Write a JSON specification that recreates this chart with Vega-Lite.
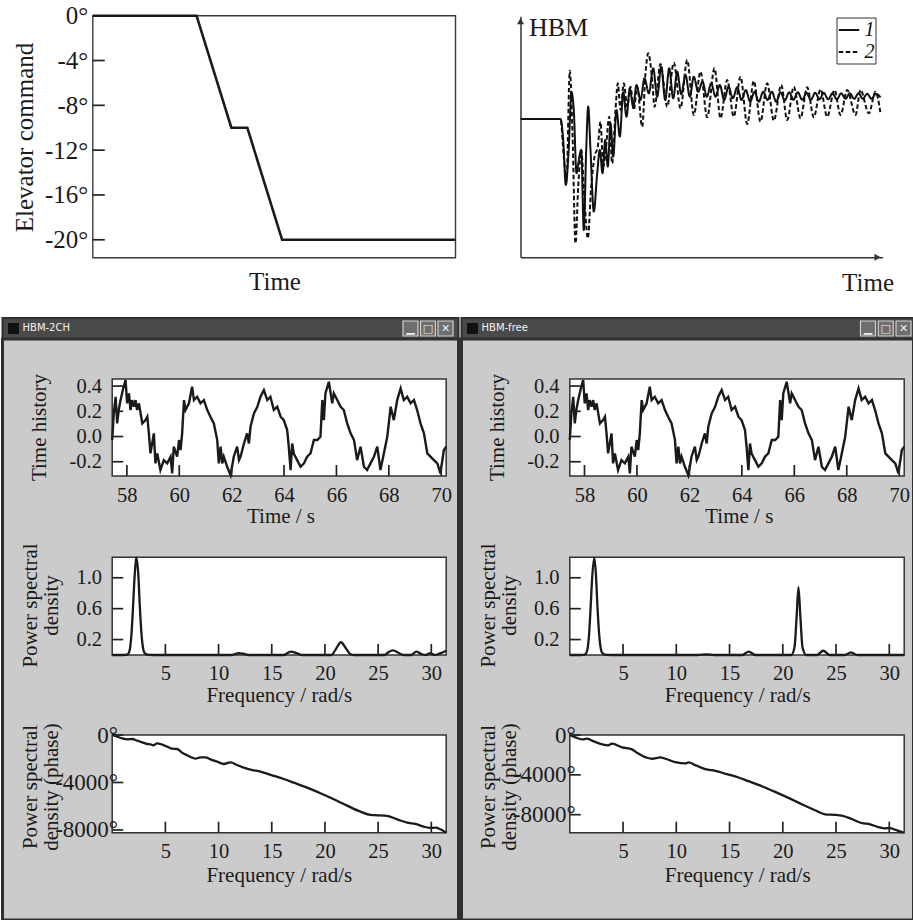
{
"$schema": "https://vega.github.io/schema/vega-lite/v6.json",
"padding": {"left": 0.5, "top": 0, "right": 0, "bottom": 0},
"background": "white",
"spacing": 0,
"bounds": "flush",
"config": {
 "view": {"stroke": null},
 "axis": {"grid": false, "domain": false, "ticks": false, "tickSize": 0, "labelFont": "Liberation Serif", "titleFont": "Liberation Serif", "labelFontSize": 20.5, "titleFontSize": 21, "titleFontWeight": "normal", "labelColor": "#1a1a1a", "titleColor": "#1a1a1a", "labelFlush": false, "labelOverlap": false},
 "tick": {"color": "#222222", "opacity": 1, "thickness": 1.7}
},
"datasets": {
 "buttons": [{"b":"min","g":"▁"},{"b":"max","g":"□"},{"b":"close","g":"✕"}],
 "elevTk": [{"e":-4},{"e":-8},{"e":-12},{"e":-16},{"e":-20}],
 "thXt": [{"t":58},{"t":60},{"t":62},{"t":64},{"t":66},{"t":68},{"t":70}],
 "thYt": [{"v":-0.2},{"v":0},{"v":0.2},{"v":0.4}],
 "fXt": [{"f":5},{"f":10},{"f":15},{"f":20},{"f":25},{"f":30}],
 "pYt": [{"p":0.2},{"p":0.6},{"p":1.0}],
 "phYt": [{"d":0},{"d":-4000},{"d":-8000}],
 "elev": [{"x":0,"e":0},{"x":28.6,"e":0},{"x":38.2,"e":-10},{"x":42.6,"e":-10},{"x":52.2,"e":-20},{"x":100,"e":-20}],
 "hbm": [
  {"t":0,"h":138.3,"s":"1"},{"t":40,"h":138.3,"s":"1"},{"t":42.7,"h":117.3,"s":"1"},{"t":45.3,"h":72.3,"s":"1"},{"t":48,"h":104,"s":"1"},{"t":51,"h":165,"s":"1"},{"t":53.3,"h":147,"s":"1"},{"t":56,"h":84,"s":"1"},{"t":58.3,"h":97.3,"s":"1"},{"t":60.7,"h":107.3,"s":"1"},{"t":63.3,"h":27.3,"s":"1"},{"t":65.7,"h":107.3,"s":"1"},{"t":67.7,"h":150.7,"s":"1"},{"t":70,"h":107.3,"s":"1"},{"t":73.3,"h":45.7,"s":"1"},{"t":76.7,"h":84,"s":"1"},{"t":79.3,"h":107.3,"s":"1"},{"t":82,"h":84,"s":"1"},{"t":84.7,"h":117.3,"s":"1"},{"t":87.3,"h":90.7,"s":"1"},{"t":90,"h":134,"s":"1"},{"t":92.7,"h":100.6,"s":"1"},{"t":96,"h":147.3,"s":"1"},{"t":99.3,"h":120.7,"s":"1"},{"t":102.7,"h":165,"s":"1"},{"t":106,"h":140.6,"s":"1"},{"t":109.3,"h":169,"s":"1"},{"t":112.7,"h":150.6,"s":"1"},{"t":116,"h":172.3,"s":"1"},{"t":120,"h":157.3,"s":"1"},{"t":124,"h":179,"s":"1"},{"t":128.3,"h":164,"s":"1"},{"t":132.7,"h":189,"s":"1"},{"t":136.7,"h":160.6,"s":"1"},{"t":140.7,"h":190.6,"s":"1"},{"t":144.7,"h":157.3,"s":"1"},{"t":148.7,"h":189,"s":"1"},{"t":152.7,"h":159,"s":"1"},{"t":156.7,"h":185.6,"s":"1"},{"t":160.7,"h":163,"s":"1"},{"t":165,"h":182.3,"s":"1"},{"t":169.3,"h":160.6,"s":"1"},{"t":173.3,"h":180.6,"s":"1"},{"t":177.7,"h":165.6,"s":"1"},{"t":182,"h":175.6,"s":"1"},{"t":186.3,"h":160.6,"s":"1"},{"t":190.7,"h":174,"s":"1"},{"t":195,"h":160.6,"s":"1"},{"t":199.3,"h":172.3,"s":"1"},{"t":203.7,"h":157.3,"s":"1"},{"t":208,"h":170.6,"s":"1"},{"t":212.3,"h":159,"s":"1"},{"t":216.7,"h":170,"s":"1"},{"t":221,"h":157.3,"s":"1"},{"t":225.3,"h":167.3,"s":"1"},{"t":229.7,"h":155.6,"s":"1"},{"t":234,"h":165.6,"s":"1"},{"t":238.3,"h":155.6,"s":"1"},{"t":242.7,"h":165.6,"s":"1"},{"t":247,"h":157.3,"s":"1"},{"t":251.3,"h":165.6,"s":"1"},{"t":255.7,"h":155.6,"s":"1"},{"t":260,"h":165,"s":"1"},{"t":264.3,"h":157,"s":"1"},{"t":268.7,"h":165,"s":"1"},{"t":273,"h":157.5,"s":"1"},{"t":277.3,"h":165,"s":"1"},{"t":281.7,"h":157.5,"s":"1"},{"t":286,"h":164.5,"s":"1"},{"t":290.3,"h":157.5,"s":"1"},{"t":294.7,"h":164.5,"s":"1"},{"t":299,"h":158,"s":"1"},{"t":303.3,"h":164.5,"s":"1"},{"t":307.7,"h":158,"s":"1"},{"t":312,"h":164,"s":"1"},{"t":316.3,"h":158,"s":"1"},{"t":320.7,"h":164,"s":"1"},{"t":325,"h":158.5,"s":"1"},{"t":329.3,"h":164,"s":"1"},{"t":333.7,"h":158.5,"s":"1"},{"t":338,"h":164,"s":"1"},{"t":342.3,"h":158.5,"s":"1"},{"t":346.7,"h":163.5,"s":"1"},{"t":351,"h":158.5,"s":"1"},{"t":355.3,"h":163.5,"s":"1"},{"t":360,"h":160,"s":"1"},
  {"t":0,"h":138.3,"s":"2"},{"t":40,"h":138.3,"s":"2"},{"t":43.3,"h":100.6,"s":"2"},{"t":46,"h":77.3,"s":"2"},{"t":49.3,"h":186.6,"s":"2"},{"t":52,"h":124,"s":"2"},{"t":55,"h":14,"s":"2"},{"t":57.7,"h":70.6,"s":"2"},{"t":60.7,"h":107.3,"s":"2"},{"t":64,"h":57.3,"s":"2"},{"t":67.3,"h":19,"s":"2"},{"t":70.7,"h":70.6,"s":"2"},{"t":74,"h":100.6,"s":"2"},{"t":77.3,"h":110.6,"s":"2"},{"t":80,"h":135.6,"s":"2"},{"t":82.7,"h":90.6,"s":"2"},{"t":85.3,"h":107.3,"s":"2"},{"t":88.7,"h":140.6,"s":"2"},{"t":91.7,"h":94,"s":"2"},{"t":95,"h":147.3,"s":"2"},{"t":97.3,"h":174,"s":"2"},{"t":100,"h":147.3,"s":"2"},{"t":103.3,"h":174,"s":"2"},{"t":106.7,"h":150.6,"s":"2"},{"t":110,"h":170.6,"s":"2"},{"t":113.3,"h":147.3,"s":"2"},{"t":116.7,"h":170.6,"s":"2"},{"t":121.7,"h":130.6,"s":"2"},{"t":125,"h":184,"s":"2"},{"t":127.7,"h":204,"s":"2"},{"t":131.7,"h":177.3,"s":"2"},{"t":134,"h":150.6,"s":"2"},{"t":140,"h":193.3,"s":"2"},{"t":146.7,"h":150.6,"s":"2"},{"t":153.3,"h":194.6,"s":"2"},{"t":160,"h":149,"s":"2"},{"t":166.7,"h":197.3,"s":"2"},{"t":173.3,"h":142.3,"s":"2"},{"t":180,"h":185.6,"s":"2"},{"t":186.7,"h":140,"s":"2"},{"t":194,"h":189,"s":"2"},{"t":200,"h":139,"s":"2"},{"t":206.7,"h":177.3,"s":"2"},{"t":213.3,"h":140.6,"s":"2"},{"t":220,"h":180.6,"s":"2"},{"t":226.7,"h":133.3,"s":"2"},{"t":233.3,"h":176.3,"s":"2"},{"t":240,"h":135.6,"s":"2"},{"t":246.7,"h":174,"s":"2"},{"t":253.3,"h":136.6,"s":"2"},{"t":260.7,"h":172.3,"s":"2"},{"t":266.7,"h":137.3,"s":"2"},{"t":273.3,"h":170.6,"s":"2"},{"t":280,"h":139,"s":"2"},{"t":286.7,"h":170,"s":"2"},{"t":293.3,"h":140,"s":"2"},{"t":300,"h":168,"s":"2"},{"t":306.7,"h":140.6,"s":"2"},{"t":314,"h":167.3,"s":"2"},{"t":320,"h":142.3,"s":"2"},{"t":326.7,"h":167.3,"s":"2"},{"t":335,"h":142.3,"s":"2"},{"t":340,"h":167.3,"s":"2"},{"t":348.3,"h":144,"s":"2"},{"t":355,"h":165.6,"s":"2"},{"t":360,"h":144,"s":"2"}
 ],
 "th": [
  {"t":57.44,"v":-0.028},{"t":57.50,"v":0.183},{"t":57.57,"v":0.315},{"t":57.63,"v":0.104},{"t":57.69,"v":0.210},{"t":57.76,"v":0.289},{"t":57.86,"v":0.381},{"t":57.95,"v":0.448},{"t":58.01,"v":0.263},{"t":58.08,"v":0.342},{"t":58.14,"v":0.210},{"t":58.20,"v":0.289},{"t":58.27,"v":0.236},{"t":58.33,"v":0.289},{"t":58.39,"v":0.210},{"t":58.46,"v":0.263},{"t":58.59,"v":0.104},{"t":58.71,"v":0.130},{"t":58.78,"v":0.157},{"t":58.84,"v":0.025},{"t":58.90,"v":-0.134},{"t":59.03,"v":0.025},{"t":59.09,"v":-0.213},{"t":59.16,"v":-0.134},{"t":59.28,"v":-0.266},{"t":59.41,"v":-0.187},{"t":59.54,"v":-0.213},{"t":59.67,"v":-0.160},{"t":59.73,"v":-0.292},{"t":59.79,"v":-0.081},{"t":59.92,"v":-0.160},{"t":59.99,"v":-0.028},{"t":60.05,"v":-0.107},{"t":60.11,"v":0.025},{"t":60.18,"v":0.289},{"t":60.24,"v":0.210},{"t":60.37,"v":0.263},{"t":60.49,"v":0.395},{"t":60.56,"v":0.289},{"t":60.68,"v":0.315},{"t":60.81,"v":0.263},{"t":60.94,"v":0.289},{"t":61.07,"v":0.210},{"t":61.19,"v":0.157},{"t":61.32,"v":0.104},{"t":61.45,"v":-0.028},{"t":61.51,"v":-0.213},{"t":61.58,"v":-0.081},{"t":61.64,"v":-0.213},{"t":61.70,"v":-0.160},{"t":61.83,"v":-0.240},{"t":61.96,"v":-0.306},{"t":62.08,"v":-0.160},{"t":62.21,"v":-0.081},{"t":62.28,"v":-0.187},{"t":62.34,"v":-0.160},{"t":62.47,"v":-0.055},{"t":62.59,"v":0.025},{"t":62.66,"v":-0.055},{"t":62.72,"v":0.078},{"t":62.85,"v":0.183},{"t":62.98,"v":0.236},{"t":63.10,"v":0.315},{"t":63.23,"v":0.368},{"t":63.36,"v":0.289},{"t":63.48,"v":0.315},{"t":63.61,"v":0.210},{"t":63.74,"v":0.236},{"t":63.87,"v":0.157},{"t":63.99,"v":0.130},{"t":64.12,"v":0.051},{"t":64.18,"v":-0.081},{"t":64.25,"v":-0.266},{"t":64.31,"v":-0.055},{"t":64.37,"v":-0.134},{"t":64.50,"v":-0.187},{"t":64.63,"v":-0.240},{"t":64.76,"v":-0.213},{"t":64.88,"v":-0.160},{"t":65.01,"v":-0.134},{"t":65.14,"v":-0.028},{"t":65.27,"v":-0.028},{"t":65.39,"v":-0.002},{"t":65.46,"v":0.289},{"t":65.52,"v":0.130},{"t":65.58,"v":0.342},{"t":65.71,"v":0.434},{"t":65.84,"v":0.263},{"t":65.90,"v":0.342},{"t":66.03,"v":0.289},{"t":66.16,"v":0.236},{"t":66.28,"v":0.210},{"t":66.41,"v":0.104},{"t":66.54,"v":0.025},{"t":66.67,"v":-0.028},{"t":66.79,"v":-0.187},{"t":66.92,"v":-0.081},{"t":67.05,"v":-0.240},{"t":67.17,"v":-0.266},{"t":67.30,"v":-0.213},{"t":67.43,"v":-0.160},{"t":67.56,"v":-0.081},{"t":67.68,"v":-0.266},{"t":67.81,"v":-0.134},{"t":67.94,"v":-0.002},{"t":68.07,"v":0.236},{"t":68.19,"v":0.130},{"t":68.32,"v":0.289},{"t":68.45,"v":0.381},{"t":68.57,"v":0.289},{"t":68.70,"v":0.315},{"t":68.83,"v":0.263},{"t":68.96,"v":0.289},{"t":69.08,"v":0.210},{"t":69.21,"v":0.104},{"t":69.34,"v":0.025},{"t":69.47,"v":-0.134},{"t":69.59,"v":-0.160},{"t":69.72,"v":-0.187},{"t":69.85,"v":-0.213},{"t":69.97,"v":-0.292},{"t":70.10,"v":-0.107},{"t":70.19,"v":-0.081}
 ],
 "psdL": [
  {"f":0,"p":0},{"f":1.0,"p":0},{"f":1.4,"p":0.005},{"f":1.6,"p":0.04},{"f":1.8,"p":0.25},{"f":1.95,"p":0.6},{"f":2.1,"p":1.0},{"f":2.28,"p":1.26},{"f":2.45,"p":1.05},{"f":2.6,"p":0.62},{"f":2.75,"p":0.28},{"f":2.9,"p":0.09},{"f":3.05,"p":0.025},{"f":3.3,"p":0.004},{"f":3.8,"p":0},{"f":11.2,"p":0},{"f":11.9,"p":0.025},{"f":12.5,"p":0.01},{"f":13.0,"p":0},{"f":16.1,"p":0},{"f":16.8,"p":0.045},{"f":17.4,"p":0.02},{"f":17.9,"p":0},{"f":20.6,"p":0},{"f":21.0,"p":0.07},{"f":21.5,"p":0.165},{"f":22.0,"p":0.08},{"f":22.4,"p":0.01},{"f":22.8,"p":0},{"f":25.6,"p":0},{"f":26.0,"p":0.04},{"f":26.4,"p":0.06},{"f":26.9,"p":0.03},{"f":27.4,"p":0},{"f":28.1,"p":0},{"f":28.6,"p":0.045},{"f":29.1,"p":0.01},{"f":29.5,"p":0},{"f":29.9,"p":0.025},{"f":30.3,"p":0},{"f":30.8,"p":0.02},{"f":31.4,"p":0.055}
 ],
 "psdR": [
  {"f":0,"p":0},{"f":1.0,"p":0},{"f":1.4,"p":0.005},{"f":1.6,"p":0.04},{"f":1.8,"p":0.25},{"f":1.95,"p":0.6},{"f":2.1,"p":1.0},{"f":2.3,"p":1.26},{"f":2.45,"p":1.05},{"f":2.6,"p":0.62},{"f":2.75,"p":0.28},{"f":2.9,"p":0.09},{"f":3.05,"p":0.025},{"f":3.3,"p":0.004},{"f":3.8,"p":0},{"f":12.0,"p":0},{"f":12.8,"p":0.008},{"f":13.6,"p":0},{"f":16.2,"p":0},{"f":16.8,"p":0.045},{"f":17.4,"p":0},{"f":20.8,"p":0},{"f":21.1,"p":0.1},{"f":21.3,"p":0.5},{"f":21.47,"p":0.88},{"f":21.65,"p":0.5},{"f":21.85,"p":0.1},{"f":22.2,"p":0},{"f":23.2,"p":0},{"f":23.8,"p":0.055},{"f":24.4,"p":0},{"f":25.8,"p":0},{"f":26.4,"p":0.035},{"f":27.0,"p":0},{"f":31.4,"p":0}
 ],
 "phL": [
  {"f":0,"d":0},{"f":0.47,"d":-140},{"f":0.94,"d":-281},{"f":1.41,"d":-365},{"f":1.88,"d":-337},{"f":2.35,"d":-477},{"f":2.82,"d":-618},{"f":3.29,"d":-758},{"f":3.6,"d":-786},{"f":3.85,"d":-870},{"f":4.23,"d":-702},{"f":4.7,"d":-814},{"f":5.17,"d":-982},{"f":5.64,"d":-1151},{"f":6.11,"d":-1179},{"f":6.58,"d":-1488},{"f":7.05,"d":-1712},{"f":7.52,"d":-1909},{"f":7.83,"d":-1993},{"f":8.3,"d":-1881},{"f":8.77,"d":-1881},{"f":9.24,"d":-2049},{"f":9.87,"d":-2246},{"f":10.5,"d":-2442},{"f":11.12,"d":-2302},{"f":11.75,"d":-2526},{"f":12.37,"d":-2751},{"f":13.0,"d":-2919},{"f":13.94,"d":-3088},{"f":15.04,"d":-3396},{"f":16.13,"d":-3705},{"f":17.07,"d":-4014},{"f":18.33,"d":-4435},{"f":19.58,"d":-4912},{"f":20.83,"d":-5418},{"f":22.09,"d":-5951},{"f":23.34,"d":-6456},{"f":24.28,"d":-6737},{"f":24.91,"d":-6765},{"f":25.85,"d":-6821},{"f":26.79,"d":-7102},{"f":27.73,"d":-7382},{"f":28.51,"d":-7495},{"f":29.29,"d":-7719},{"f":29.92,"d":-7831},{"f":30.39,"d":-7803},{"f":30.86,"d":-7944},{"f":31.39,"d":-8225}
 ],
 "phR": [
  {"f":0,"d":0},{"f":0.53,"d":-235},{"f":1.16,"d":-437},{"f":1.63,"d":-370},{"f":2.09,"d":-571},{"f":3.03,"d":-941},{"f":3.59,"d":-1042},{"f":3.97,"d":-874},{"f":4.91,"d":-1244},{"f":5.84,"d":-1445},{"f":6.31,"d":-1781},{"f":7.25,"d":-2285},{"f":7.72,"d":-2386},{"f":8.5,"d":-2251},{"f":8.97,"d":-2386},{"f":9.91,"d":-2722},{"f":10.84,"d":-2856},{"f":11.16,"d":-2755},{"f":11.78,"d":-3024},{"f":12.72,"d":-3427},{"f":13.66,"d":-3595},{"f":14.75,"d":-3931},{"f":15.84,"d":-4267},{"f":16.78,"d":-4637},{"f":18.03,"d":-5141},{"f":19.28,"d":-5712},{"f":20.53,"d":-6317},{"f":21.78,"d":-6955},{"f":23.03,"d":-7560},{"f":23.97,"d":-7963},{"f":25.06,"d":-8030},{"f":25.53,"d":-8098},{"f":26.47,"d":-8434},{"f":27.41,"d":-8837},{"f":28.19,"d":-8971},{"f":28.97,"d":-9240},{"f":29.59,"d":-9374},{"f":30.06,"d":-9341},{"f":30.53,"d":-9509},{"f":31.34,"d":-9800}
 ]
},
"vconcat": [
 {
  "width": 911, "height": 318,
  "view": {"fill": "white", "stroke": null},
  "layer": [
   {"layer": [
    {"data": {"values": [{}]}, "mark": {"type": "rect", "fill": "white", "stroke": "#3a3a3a", "strokeWidth": 1.4},
     "encoding": {
      "x": {"datum": 0, "type": "quantitative", "scale": {"domain": [0, 100], "range": [90.3, 453], "nice": false, "zero": false}},
      "x2": {"datum": 100},
      "y": {"datum": -21.6, "type": "quantitative", "scale": {"domain": [-21.6, 0], "range": [257.7, 15.7], "nice": false, "zero": false}},
      "y2": {"datum": 0}}},
    {"data": {"name": "elev"}, "mark": {"type": "line", "color": "#1a1a1a", "strokeWidth": 2.6},
     "encoding": {
      "x": {"field": "x", "type": "quantitative", "scale": {"domain": [0, 100], "range": [90.3, 453], "nice": false, "zero": false},
            "axis": {"orient": "bottom", "offset": -60.3, "zindex": 2, "labels": false, "title": "Time", "titleFontSize": 25, "titleX": 272, "titleY": 24.1, "titleAlign": "center", "titleBaseline": "middle"}},
      "y": {"field": "e", "type": "quantitative", "scale": {"domain": [-21.6, 0], "range": [257.7, 15.7], "nice": false, "zero": false},
            "axis": {"orient": "left", "offset": -90.3, "zindex": 2, "values": [0, -4, -8, -12, -16, -20], "labelExpr": "datum.value + '°'", "labelFontSize": 25, "labelPadding": 5, "title": "Elevator command", "titleFontSize": 25, "titleX": -68.8, "titleY": 137, "titleAngle": -90, "titleAlign": "center", "titleBaseline": "middle"}}}},
    {"data": {"name": "elevTk"}, "mark": {"type": "tick", "orient": "horizontal", "size": 12, "xOffset": 6},
     "encoding": {
      "x": {"datum": 0, "type": "quantitative", "scale": {"domain": [0, 100], "range": [90.3, 453], "nice": false, "zero": false}},
      "y": {"field": "e", "type": "quantitative", "scale": {"domain": [-21.6, 0], "range": [257.7, 15.7], "nice": false, "zero": false}}}}
   ]},
   {"layer": [
    {"data": {"name": "hbm"}, "mark": {"type": "line", "color": "#111111", "strokeWidth": 2, "interpolate": "monotone"},
     "encoding": {
      "x": {"field": "t", "type": "quantitative", "scale": {"domain": [0, 362], "range": [518, 880], "nice": false, "zero": false},
            "axis": {"orient": "bottom", "offset": -60.7, "zindex": 2, "domain": true, "domainColor": "#333333", "domainWidth": 1.5, "labels": false, "title": "Time", "titleFontSize": 25, "titleX": 891, "titleY": 25.2, "titleAlign": "right", "titleBaseline": "middle"}},
      "y": {"field": "h", "type": "quantitative", "scale": {"domain": [0, 241], "range": [257.3, 16.3], "nice": false, "zero": false},
            "axis": {"orient": "left", "offset": -518, "zindex": 2, "domain": true, "domainColor": "#333333", "domainWidth": 1.5, "labels": false, "title": "HBM", "titleFontSize": 26, "titleAngle": 0, "titleX": 8, "titleY": 27.2, "titleAlign": "left", "titleBaseline": "middle"}},
      "strokeDash": {"field": "s", "type": "nominal", "scale": {"domain": ["1", "2"], "range": [[1, 0], [4.5, 2.5]]},
            "legend": {"orient": "none", "legendX": 834, "legendY": 17.5, "title": null, "direction": "vertical", "strokeColor": "#333333", "fillColor": "white", "padding": 1, "symbolType": "stroke", "symbolSize": 420, "symbolStrokeWidth": 2, "symbolStrokeColor": "#111111", "labelFont": "Liberation Serif", "labelFontStyle": "italic", "labelFontSize": 20, "labelColor": "#111111", "rowPadding": -6, "labelOffset": 4}}}},
    {"data": {"values": [{}]}, "mark": {"type": "point", "shape": "triangle-up", "filled": true, "size": 50, "color": "#333333", "opacity": 1},
     "encoding": {
      "x": {"datum": 0, "type": "quantitative", "scale": {"domain": [0, 362], "range": [518, 880], "nice": false, "zero": false}},
      "y": {"datum": 236, "type": "quantitative", "scale": {"domain": [0, 241], "range": [257.3, 16.3], "nice": false, "zero": false}}}},
    {"data": {"values": [{}]}, "mark": {"type": "point", "shape": "triangle-right", "filled": true, "size": 50, "color": "#333333", "opacity": 1},
     "encoding": {
      "x": {"datum": 357, "type": "quantitative", "scale": {"domain": [0, 362], "range": [518, 880], "nice": false, "zero": false}},
      "y": {"datum": 0, "type": "quantitative", "scale": {"domain": [0, 241], "range": [257.3, 16.3], "nice": false, "zero": false}}}}
   ]}
  ],
  "resolve": {"scale": {"x": "independent", "y": "independent"}, "axis": {"x": "independent", "y": "independent"}}
 },
 {
  "columns": 2,
  "spacing": {"row": 0, "column": 3},
  "bounds": "flush",
  "concat": [
     {"width": 456, "height": 21,
      "view": {"fill": "#4a4a4a", "stroke": "#303030", "strokeWidth": 2},
      "title": {"text": "HBM-2CH", "anchor": "start", "offset": -15, "dx": 20, "color": "#f4f4f4", "font": "DejaVu Sans", "fontSize": 10, "fontWeight": "normal"},
      "layer": [
       {"data": {"values": [{}]}, "mark": {"type": "point", "shape": "square", "filled": true, "size": 121, "color": "#111111", "opacity": 1},
        "encoding": {"x": {"datum": 0, "type": "quantitative", "scale": {"domain": [0, 1], "range": [11, 12]}, "axis": null}}},
       {"data": {"name": "buttons"}, "mark": {"type": "point", "shape": "square", "filled": true, "size": 225, "fill": "#6e6e6e", "stroke": "#d2d2d2", "strokeWidth": 1.2, "opacity": 1},
        "encoding": {"x": {"field": "b", "type": "nominal", "sort": null, "scale": {"type": "point", "domain": ["min", "max", "close"], "range": [408, 443], "padding": 0}, "axis": null}}},
       {"data": {"name": "buttons"}, "mark": {"type": "text", "font": "DejaVu Sans", "fontSize": 11, "color": "#f0f0f0", "baseline": "middle", "align": "center"},
        "encoding": {"x": {"field": "b", "type": "nominal", "sort": null, "scale": {"type": "point", "domain": ["min", "max", "close"], "range": [408, 443], "padding": 0}, "axis": null}, "text": {"field": "g"}}}
      ]},
     {"width": 452, "height": 21,
      "view": {"fill": "#4a4a4a", "stroke": "#303030", "strokeWidth": 2},
      "title": {"text": "HBM-free", "anchor": "start", "offset": -15, "dx": 20, "color": "#f4f4f4", "font": "DejaVu Sans", "fontSize": 10, "fontWeight": "normal"},
      "layer": [
       {"data": {"values": [{}]}, "mark": {"type": "point", "shape": "square", "filled": true, "size": 121, "color": "#111111", "opacity": 1},
        "encoding": {"x": {"datum": 0, "type": "quantitative", "scale": {"domain": [0, 1], "range": [11, 12]}, "axis": null}}},
       {"data": {"name": "buttons"}, "mark": {"type": "point", "shape": "square", "filled": true, "size": 225, "fill": "#6e6e6e", "stroke": "#d2d2d2", "strokeWidth": 1.2, "opacity": 1},
        "encoding": {"x": {"field": "b", "type": "nominal", "sort": null, "scale": {"type": "point", "domain": ["min", "max", "close"], "range": [406.5, 442], "padding": 0}, "axis": null}}},
       {"data": {"name": "buttons"}, "mark": {"type": "text", "font": "DejaVu Sans", "fontSize": 11, "color": "#f0f0f0", "baseline": "middle", "align": "center"},
        "encoding": {"x": {"field": "b", "type": "nominal", "sort": null, "scale": {"type": "point", "domain": ["min", "max", "close"], "range": [406.5, 442], "padding": 0}, "axis": null}, "text": {"field": "g"}}}
      ]},
     {"width": 456, "height": 581,
      "view": {"fill": "#cbcbcb", "stroke": "#303030", "strokeWidth": 3},
      "layer": [
       {"layer": [
        {"data": {"values": [{}]}, "mark": {"type": "rect", "fill": "white", "stroke": "#333333", "strokeWidth": 1.5},
         "encoding": {
          "x": {"datum": 57.44, "type": "quantitative", "scale": {"domain": [57.44, 70.19], "range": [109.7, 443.7], "nice": false, "zero": false}},
          "x2": {"datum": 70.19},
          "y": {"datum": -0.313, "type": "quantitative", "scale": {"domain": [-0.313, 0.456], "range": [137, 40], "nice": false, "zero": false}},
          "y2": {"datum": 0.456}}},
        {"data": {"name": "th"}, "mark": {"type": "line", "color": "#1a1a1a", "strokeWidth": 2.4},
         "encoding": {
          "x": {"field": "t", "type": "quantitative", "scale": {"domain": [57.44, 70.19], "range": [109.7, 443.7], "nice": false, "zero": false},
                "axis": {"orient": "bottom", "offset": -444, "zindex": 2, "values": [58, 60, 62, 64, 66, 68, 70], "labelPadding": 9.5, "title": "Time / s", "titleX": 278, "titleY": 40.7, "titleAlign": "center", "titleBaseline": "middle"}},
          "y": {"field": "v", "type": "quantitative", "scale": {"domain": [-0.313, 0.456], "range": [137, 40], "nice": false, "zero": false},
                "axis": {"orient": "left", "offset": -109.7, "zindex": 2, "values": [-0.2, 0, 0.2, 0.4], "labelExpr": "replace(format(datum.value, '.1f'), '−', '-')", "labelPadding": 10.7, "title": "Time history", "titleX": -73.2, "titleY": 88, "titleAngle": -90, "titleAlign": "center", "titleBaseline": "middle"}}}},
        {"data": {"name": "thXt"}, "mark": {"type": "tick", "orient": "vertical", "size": 11, "yOffset": -5.5},
         "encoding": {
          "x": {"field": "t", "type": "quantitative", "scale": {"domain": [57.44, 70.19], "range": [109.7, 443.7], "nice": false, "zero": false}},
          "y": {"datum": -0.313, "type": "quantitative", "scale": {"domain": [-0.313, 0.456], "range": [137, 40], "nice": false, "zero": false}}}},
        {"data": {"name": "thYt"}, "mark": {"type": "tick", "orient": "horizontal", "size": 11, "xOffset": 5.5},
         "encoding": {
          "x": {"datum": 57.44, "type": "quantitative", "scale": {"domain": [57.44, 70.19], "range": [109.7, 443.7], "nice": false, "zero": false}},
          "y": {"field": "v", "type": "quantitative", "scale": {"domain": [-0.313, 0.456], "range": [137, 40], "nice": false, "zero": false}}}}
       ]},
       {"layer": [
        {"data": {"values": [{}]}, "mark": {"type": "rect", "fill": "white", "stroke": "#333333", "strokeWidth": 1.5},
         "encoding": {
          "x": {"datum": 0, "type": "quantitative", "scale": {"domain": [0, 31.4], "range": [109.7, 443.7], "nice": false, "zero": false}},
          "x2": {"datum": 31.4},
          "y": {"datum": 0, "type": "quantitative", "scale": {"domain": [0, 1.265], "range": [316, 218.3], "nice": false, "zero": false}},
          "y2": {"datum": 1.265}}},
        {"data": {"name": "psdL"}, "mark": {"type": "line", "color": "#1a1a1a", "strokeWidth": 2.3, "interpolate": "monotone"},
         "encoding": {
          "x": {"field": "f", "type": "quantitative", "scale": {"domain": [0, 31.4], "range": [109.7, 443.7], "nice": false, "zero": false},
                "axis": {"orient": "bottom", "offset": -265, "zindex": 2, "values": [5, 10, 15, 20, 25, 30], "labelPadding": 8.5, "title": "Frequency / rad/s", "titleX": 276.3, "titleY": 40.5, "titleAlign": "center", "titleBaseline": "middle"}},
          "y": {"field": "p", "type": "quantitative", "scale": {"domain": [0, 1.265], "range": [316, 218.3], "nice": false, "zero": false},
                "axis": {"orient": "left", "offset": -109.7, "zindex": 2, "values": [0.2, 0.6, 1.0], "labelExpr": "format(datum.value, '.1f')", "labelPadding": 10.7, "title": ["Power spectral", "density"], "titleLineHeight": 21, "titleX": -81.7, "titleY": 266, "titleAngle": -90, "titleAlign": "center", "titleBaseline": "middle"}}}},
        {"data": {"name": "fXt"}, "mark": {"type": "tick", "orient": "vertical", "size": 11, "yOffset": -5.5},
         "encoding": {
          "x": {"field": "f", "type": "quantitative", "scale": {"domain": [0, 31.4], "range": [109.7, 443.7], "nice": false, "zero": false}},
          "y": {"datum": 0, "type": "quantitative", "scale": {"domain": [0, 1.265], "range": [316, 218.3], "nice": false, "zero": false}}}},
        {"data": {"name": "pYt"}, "mark": {"type": "tick", "orient": "horizontal", "size": 11, "xOffset": 5.5},
         "encoding": {
          "x": {"datum": 0, "type": "quantitative", "scale": {"domain": [0, 31.4], "range": [109.7, 443.7], "nice": false, "zero": false}},
          "y": {"field": "p", "type": "quantitative", "scale": {"domain": [0, 1.265], "range": [316, 218.3], "nice": false, "zero": false}}}}
       ]},
       {"layer": [
        {"data": {"values": [{}]}, "mark": {"type": "rect", "fill": "white", "stroke": "#333333", "strokeWidth": 1.5},
         "encoding": {
          "x": {"datum": 0, "type": "quantitative", "scale": {"domain": [0, 31.4], "range": [109.7, 443.7], "nice": false, "zero": false}},
          "x2": {"datum": 31.4},
          "y": {"datum": -8230, "type": "quantitative", "scale": {"domain": [-8230, 0], "range": [493.7, 396], "nice": false, "zero": false}},
          "y2": {"datum": 0}}},
        {"data": {"name": "phL"}, "mark": {"type": "line", "color": "#1a1a1a", "strokeWidth": 2.3, "interpolate": "monotone"},
         "encoding": {
          "x": {"field": "f", "type": "quantitative", "scale": {"domain": [0, 31.4], "range": [109.7, 443.7], "nice": false, "zero": false},
                "axis": {"orient": "bottom", "offset": -87.3, "zindex": 2, "values": [5, 10, 15, 20, 25, 30], "labelPadding": 8.5, "title": "Frequency / rad/s", "titleX": 276.3, "titleY": 42.5, "titleAlign": "center", "titleBaseline": "middle"}},
          "y": {"field": "d", "type": "quantitative", "scale": {"domain": [-8230, 0], "range": [493.7, 396], "nice": false, "zero": false},
                "axis": {"orient": "left", "offset": -109.7, "zindex": 2, "values": [0, -4000, -8000], "labelExpr": "datum.value + '°'", "labelFontSize": 23, "labelPadding": -5.3, "title": ["Power spectral", "density (phase)"], "titleLineHeight": 21, "titleX": -81.7, "titleY": 447.5, "titleAngle": -90, "titleAlign": "center", "titleBaseline": "middle"}}}},
        {"data": {"name": "fXt"}, "mark": {"type": "tick", "orient": "vertical", "size": 11, "yOffset": -5.5},
         "encoding": {
          "x": {"field": "f", "type": "quantitative", "scale": {"domain": [0, 31.4], "range": [109.7, 443.7], "nice": false, "zero": false}},
          "y": {"datum": -8230, "type": "quantitative", "scale": {"domain": [-8230, 0], "range": [493.7, 396], "nice": false, "zero": false}}}},
        {"data": {"name": "phYt"}, "mark": {"type": "tick", "orient": "horizontal", "size": 11, "xOffset": 5.5},
         "encoding": {
          "x": {"datum": 0, "type": "quantitative", "scale": {"domain": [0, 31.4], "range": [109.7, 443.7], "nice": false, "zero": false}},
          "y": {"field": "d", "type": "quantitative", "scale": {"domain": [-8230, 0], "range": [493.7, 396], "nice": false, "zero": false}}}}
       ]}
      ],
      "resolve": {"scale": {"x": "independent", "y": "independent"}, "axis": {"x": "independent", "y": "independent"}}},
     {"width": 452, "height": 581,
      "view": {"fill": "#cbcbcb", "stroke": "#303030", "strokeWidth": 3},
      "layer": [
       {"layer": [
        {"data": {"values": [{}]}, "mark": {"type": "rect", "fill": "white", "stroke": "#333333", "strokeWidth": 1.5},
         "encoding": {
          "x": {"datum": 57.44, "type": "quantitative", "scale": {"domain": [57.44, 70.19], "range": [108.3, 442.7], "nice": false, "zero": false}},
          "x2": {"datum": 70.19},
          "y": {"datum": -0.313, "type": "quantitative", "scale": {"domain": [-0.313, 0.456], "range": [137, 40], "nice": false, "zero": false}},
          "y2": {"datum": 0.456}}},
        {"data": {"name": "th"}, "mark": {"type": "line", "color": "#1a1a1a", "strokeWidth": 2.4},
         "encoding": {
          "x": {"field": "t", "type": "quantitative", "scale": {"domain": [57.44, 70.19], "range": [108.3, 442.7], "nice": false, "zero": false},
                "axis": {"orient": "bottom", "offset": -444, "zindex": 2, "values": [58, 60, 62, 64, 66, 68, 70], "labelPadding": 9.5, "title": "Time / s", "titleX": 277.3, "titleY": 40.7, "titleAlign": "center", "titleBaseline": "middle"}},
          "y": {"field": "v", "type": "quantitative", "scale": {"domain": [-0.313, 0.456], "range": [137, 40], "nice": false, "zero": false},
                "axis": {"orient": "left", "offset": -108.3, "zindex": 2, "values": [-0.2, 0, 0.2, 0.4], "labelExpr": "replace(format(datum.value, '.1f'), '−', '-')", "labelPadding": 10.7, "title": "Time history", "titleX": -72.5, "titleY": 88, "titleAngle": -90, "titleAlign": "center", "titleBaseline": "middle"}}}},
        {"data": {"name": "thXt"}, "mark": {"type": "tick", "orient": "vertical", "size": 11, "yOffset": -5.5},
         "encoding": {
          "x": {"field": "t", "type": "quantitative", "scale": {"domain": [57.44, 70.19], "range": [108.3, 442.7], "nice": false, "zero": false}},
          "y": {"datum": -0.313, "type": "quantitative", "scale": {"domain": [-0.313, 0.456], "range": [137, 40], "nice": false, "zero": false}}}},
        {"data": {"name": "thYt"}, "mark": {"type": "tick", "orient": "horizontal", "size": 11, "xOffset": 5.5},
         "encoding": {
          "x": {"datum": 57.44, "type": "quantitative", "scale": {"domain": [57.44, 70.19], "range": [108.3, 442.7], "nice": false, "zero": false}},
          "y": {"field": "v", "type": "quantitative", "scale": {"domain": [-0.313, 0.456], "range": [137, 40], "nice": false, "zero": false}}}}
       ]},
       {"layer": [
        {"data": {"values": [{}]}, "mark": {"type": "rect", "fill": "white", "stroke": "#333333", "strokeWidth": 1.5},
         "encoding": {
          "x": {"datum": 0, "type": "quantitative", "scale": {"domain": [0, 31.4], "range": [108.3, 442.7], "nice": false, "zero": false}},
          "x2": {"datum": 31.4},
          "y": {"datum": 0, "type": "quantitative", "scale": {"domain": [0, 1.265], "range": [316, 218.3], "nice": false, "zero": false}},
          "y2": {"datum": 1.265}}},
        {"data": {"name": "psdR"}, "mark": {"type": "line", "color": "#1a1a1a", "strokeWidth": 2.3, "interpolate": "monotone"},
         "encoding": {
          "x": {"field": "f", "type": "quantitative", "scale": {"domain": [0, 31.4], "range": [108.3, 442.7], "nice": false, "zero": false},
                "axis": {"orient": "bottom", "offset": -265, "zindex": 2, "values": [5, 10, 15, 20, 25, 30], "labelPadding": 8.5, "title": "Frequency / rad/s", "titleX": 275.7, "titleY": 40.5, "titleAlign": "center", "titleBaseline": "middle"}},
          "y": {"field": "p", "type": "quantitative", "scale": {"domain": [0, 1.265], "range": [316, 218.3], "nice": false, "zero": false},
                "axis": {"orient": "left", "offset": -108.3, "zindex": 2, "values": [0.2, 0.6, 1.0], "labelExpr": "format(datum.value, '.1f')", "labelPadding": 10.7, "title": ["Power spectral", "density"], "titleLineHeight": 21, "titleX": -81, "titleY": 266, "titleAngle": -90, "titleAlign": "center", "titleBaseline": "middle"}}}},
        {"data": {"name": "fXt"}, "mark": {"type": "tick", "orient": "vertical", "size": 11, "yOffset": -5.5},
         "encoding": {
          "x": {"field": "f", "type": "quantitative", "scale": {"domain": [0, 31.4], "range": [108.3, 442.7], "nice": false, "zero": false}},
          "y": {"datum": 0, "type": "quantitative", "scale": {"domain": [0, 1.265], "range": [316, 218.3], "nice": false, "zero": false}}}},
        {"data": {"name": "pYt"}, "mark": {"type": "tick", "orient": "horizontal", "size": 11, "xOffset": 5.5},
         "encoding": {
          "x": {"datum": 0, "type": "quantitative", "scale": {"domain": [0, 31.4], "range": [108.3, 442.7], "nice": false, "zero": false}},
          "y": {"field": "p", "type": "quantitative", "scale": {"domain": [0, 1.265], "range": [316, 218.3], "nice": false, "zero": false}}}}
       ]},
       {"layer": [
        {"data": {"values": [{}]}, "mark": {"type": "rect", "fill": "white", "stroke": "#333333", "strokeWidth": 1.5},
         "encoding": {
          "x": {"datum": 0, "type": "quantitative", "scale": {"domain": [0, 31.4], "range": [108.3, 442.7], "nice": false, "zero": false}},
          "x2": {"datum": 31.4},
          "y": {"datum": -9810, "type": "quantitative", "scale": {"domain": [-9810, 0], "range": [493.7, 396], "nice": false, "zero": false}},
          "y2": {"datum": 0}}},
        {"data": {"name": "phR"}, "mark": {"type": "line", "color": "#1a1a1a", "strokeWidth": 2.3, "interpolate": "monotone"},
         "encoding": {
          "x": {"field": "f", "type": "quantitative", "scale": {"domain": [0, 31.4], "range": [108.3, 442.7], "nice": false, "zero": false},
                "axis": {"orient": "bottom", "offset": -87.3, "zindex": 2, "values": [5, 10, 15, 20, 25, 30], "labelPadding": 8.5, "title": "Frequency / rad/s", "titleX": 275.7, "titleY": 42.5, "titleAlign": "center", "titleBaseline": "middle"}},
          "y": {"field": "d", "type": "quantitative", "scale": {"domain": [-9810, 0], "range": [493.7, 396], "nice": false, "zero": false},
                "axis": {"orient": "left", "offset": -108.3, "zindex": 2, "values": [0, -4000, -8000], "labelExpr": "datum.value + '°'", "labelFontSize": 23, "labelPadding": -5.3, "title": ["Power spectral", "density (phase)"], "titleLineHeight": 21, "titleX": -81, "titleY": 447.5, "titleAngle": -90, "titleAlign": "center", "titleBaseline": "middle"}}}},
        {"data": {"name": "fXt"}, "mark": {"type": "tick", "orient": "vertical", "size": 11, "yOffset": -5.5},
         "encoding": {
          "x": {"field": "f", "type": "quantitative", "scale": {"domain": [0, 31.4], "range": [108.3, 442.7], "nice": false, "zero": false}},
          "y": {"datum": -9810, "type": "quantitative", "scale": {"domain": [-9810, 0], "range": [493.7, 396], "nice": false, "zero": false}}}},
        {"data": {"name": "phYt"}, "mark": {"type": "tick", "orient": "horizontal", "size": 11, "xOffset": 5.5},
         "encoding": {
          "x": {"datum": 0, "type": "quantitative", "scale": {"domain": [0, 31.4], "range": [108.3, 442.7], "nice": false, "zero": false}},
          "y": {"field": "d", "type": "quantitative", "scale": {"domain": [-9810, 0], "range": [493.7, 396], "nice": false, "zero": false}}}}
       ]}
      ],
      "resolve": {"scale": {"x": "independent", "y": "independent"}, "axis": {"x": "independent", "y": "independent"}}}
  ]
 }
]
}
